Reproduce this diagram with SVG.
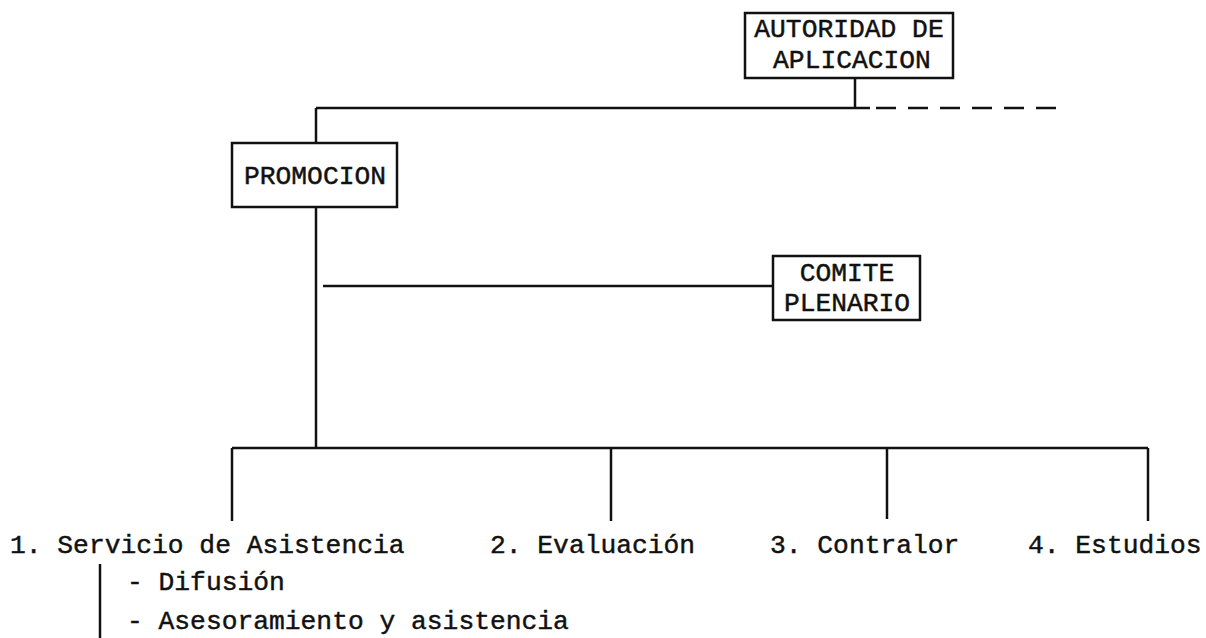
<svg xmlns="http://www.w3.org/2000/svg" width="1206" height="638" viewBox="0 0 1206 638">
<style>
.t{font-family:"Liberation Mono","Courier New",monospace;font-size:26.3px;fill:#111;stroke:#111;stroke-width:0.45}
.m{text-anchor:middle}
.box{fill:#fff;stroke:#111;stroke-width:2.5}
.ln{stroke:#111;stroke-width:2.5;fill:none}
.dash{stroke:#111;stroke-width:2.5;fill:none;stroke-dasharray:20 12}
</style>
<rect width="1206" height="638" fill="#fff"/>
<g id="connectors">
<line class="ln" x1="855" y1="78" x2="855" y2="108"/>
<line class="ln" x1="316" y1="108" x2="870" y2="108"/>
<line class="dash" x1="876" y1="108" x2="1060" y2="108"/>
<line class="ln" x1="316" y1="108" x2="316" y2="143"/>
<line class="ln" x1="316" y1="207" x2="316" y2="448"/>
<line class="ln" x1="323" y1="286" x2="773" y2="286"/>
<line class="ln" x1="232" y1="448" x2="1148" y2="448"/>
<line class="ln" x1="232" y1="448" x2="232" y2="521"/>
<line class="ln" x1="611" y1="448" x2="611" y2="521"/>
<line class="ln" x1="887" y1="448" x2="887" y2="519"/>
<line class="ln" x1="1148" y1="448" x2="1148" y2="521"/>
<line class="ln" x1="100" y1="564" x2="100" y2="638"/>
</g>
<g id="autoridad">
<rect class="box" x="745" y="13" width="208" height="65"/>
<text class="t m" x="849" y="37">AUTORIDAD DE</text>
<text class="t m" x="852" y="68">APLICACION</text>
</g>
<g id="promocion">
<rect class="box" x="232" y="143" width="165" height="64"/>
<text class="t m" x="315" y="184">PROMOCION</text>
</g>
<g id="comite">
<rect class="box" x="773" y="256" width="147" height="64"/>
<text class="t m" x="847" y="281">COMITE</text>
<text class="t m" x="847" y="311">PLENARIO</text>
</g>
<g id="servicio">
<text class="t" x="10" y="553">1. Servicio de Asistencia</text>
<text class="t" x="127" y="590">- Difusión</text>
<text class="t" x="127" y="629">- Asesoramiento y asistencia</text>
</g>
<g id="evaluacion">
<text class="t" x="490" y="553">2. Evaluación</text>
</g>
<g id="contralor">
<text class="t" x="770" y="553">3. Contralor</text>
</g>
<g id="estudios">
<text class="t" x="1028" y="553">4. Estudios</text>
</g>
</svg>
